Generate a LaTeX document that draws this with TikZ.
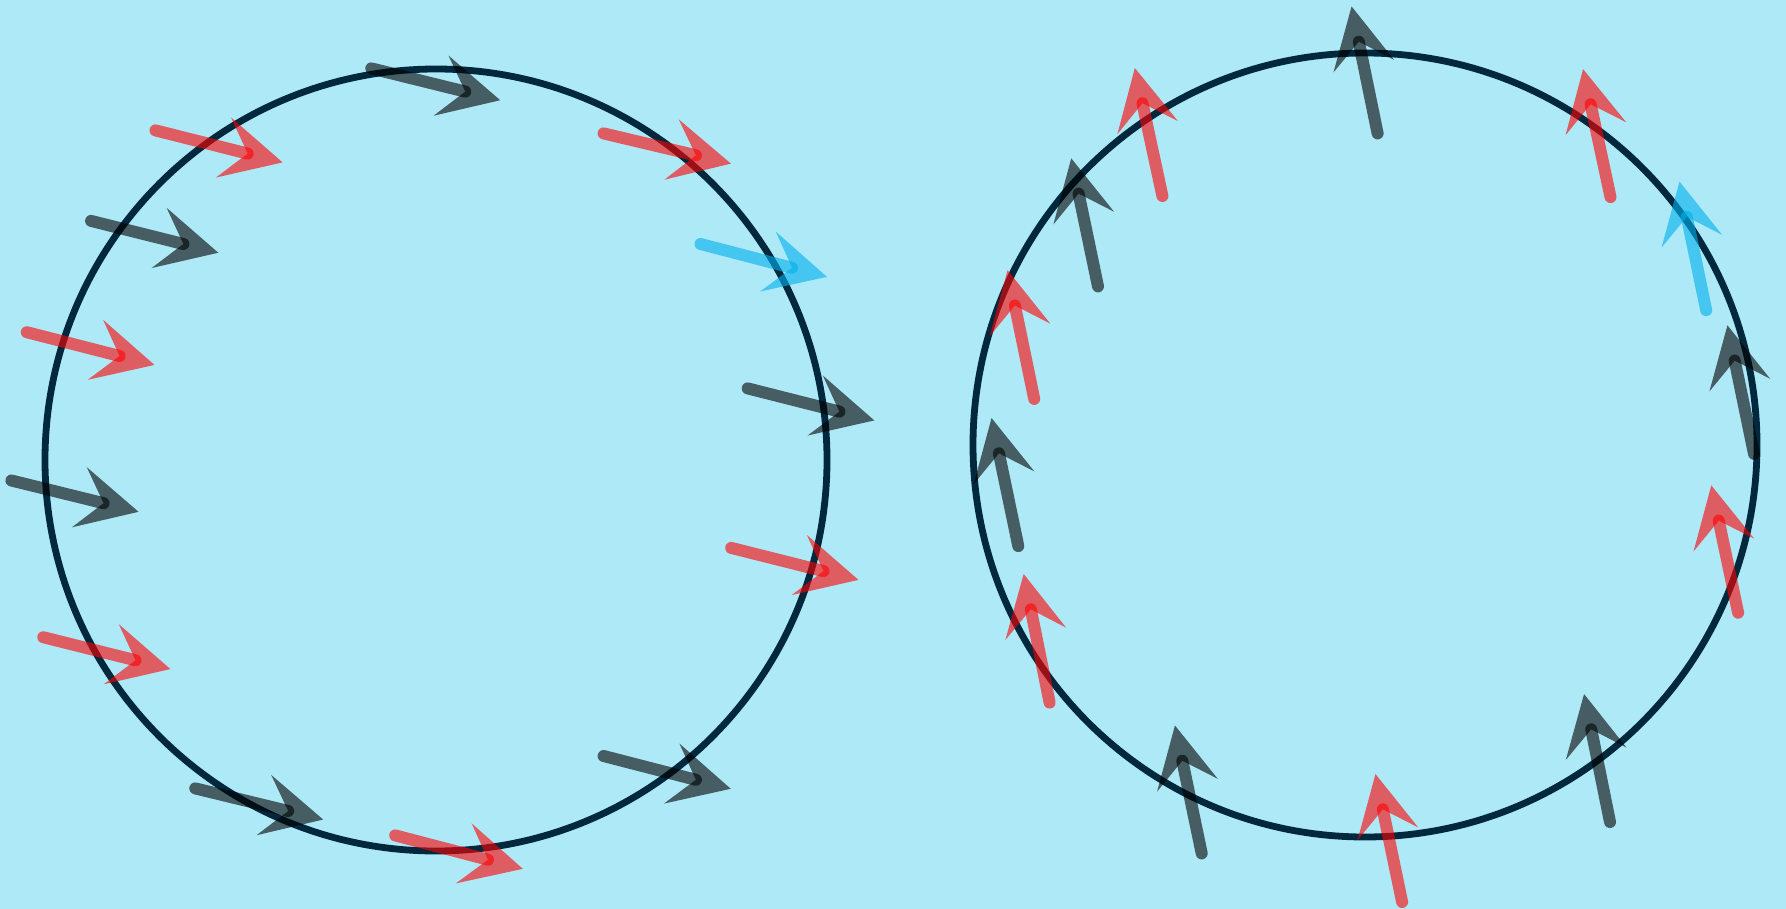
\documentclass[tikz,border=0pt]{standalone}
\usetikzlibrary{calc}
\definecolor{bgc}{RGB}{174,233,248}
\definecolor{ringc}{RGB}{2,40,62}
\definecolor{darkc}{RGB}{0,0,0}
\definecolor{redc}{RGB}{255,0,0}
\definecolor{bluec}{RGB}{0,176,236}
\tikzset{
  ring/.style={draw=ringc, line width=3.4pt},
  shaft/.style={line width=6pt, line cap=round, opacity=0.6},
  headfill/.style={opacity=0.6},
}
\newcommand\myarrow[5]{%
  \coordinate (t) at (#2,#3);
  \coordinate (d) at (#4,#5);
  \draw[shaft, draw=#1] (t) -- (d);
  \fill[headfill, fill=#1] ($(d)!-18pt!(t)$) -- ($(d)!12.5pt!(t)!15.5pt!90:(d)$) -- (d) -- ($(d)!12.5pt!(t)!15.5pt!-90:(d)$) -- cycle;
}
\begin{document}
\begin{tikzpicture}[x=0.5pt,y=-0.5pt]
\fill[bgc] (0,0) rectangle (1786,909);
\useasboundingbox (0,0) rectangle (1786,909);
% circles
\node[ring, circle, minimum size=391pt, inner sep=0pt] (c1) at (436,460) {};
\node[ring, circle, minimum size=392pt, inner sep=0pt] (c2) at (1365,445) {};
% left circle arrows
\myarrow{darkc}{371.3}{68.4}{465.3}{91.6}
\myarrow{redc}{155.5}{130.4}{247.7}{153.6}
\myarrow{redc}{603.6}{133.4}{695.9}{155.3}
\myarrow{darkc}{91.1}{220.9}{183.4}{244.0}
\myarrow{bluec}{700.5}{244.0}{792.1}{267.8}
\myarrow{redc}{26.8}{332.2}{119.6}{356.0}
\myarrow{darkc}{747.7}{388.4}{839.4}{411.6}
\myarrow{darkc}{11.4}{480.5}{103.6}{503.2}
\myarrow{redc}{731.2}{547.9}{823.5}{571.1}
\myarrow{redc}{43.3}{637.2}{135.5}{660.3}
\myarrow{darkc}{603.6}{756.0}{695.9}{779.8}
\myarrow{darkc}{195.3}{788.4}{288.2}{811.0}
\myarrow{redc}{395.2}{835.4}{488}{859.7}
% right circle arrows
\myarrow{darkc}{1377.6}{133.4}{1358.8}{41.7}
\myarrow{redc}{1162.4}{196.0}{1142.4}{103.2}
\myarrow{redc}{1610.5}{197.1}{1590.6}{104.3}
\myarrow{darkc}{1098}{286.4}{1078.6}{193.6}
\myarrow{bluec}{1706.2}{310.2}{1686.8}{216.8}
\myarrow{redc}{1034.2}{398.9}{1014.9}{305.5}
\myarrow{darkc}{1754}{453.9}{1734.7}{360.6}
\myarrow{darkc}{1018.3}{546.1}{998.9}{453.3}
\myarrow{redc}{1738.1}{612.7}{1718.7}{520.6}
\myarrow{redc}{1049.6}{702.6}{1030.8}{609.3}
\myarrow{darkc}{1610}{822.0}{1591.2}{729.3}
\myarrow{darkc}{1201.7}{853.4}{1182.3}{760.7}
\myarrow{redc}{1402.1}{902.0}{1382.8}{809.3}
\end{tikzpicture}
\end{document}
